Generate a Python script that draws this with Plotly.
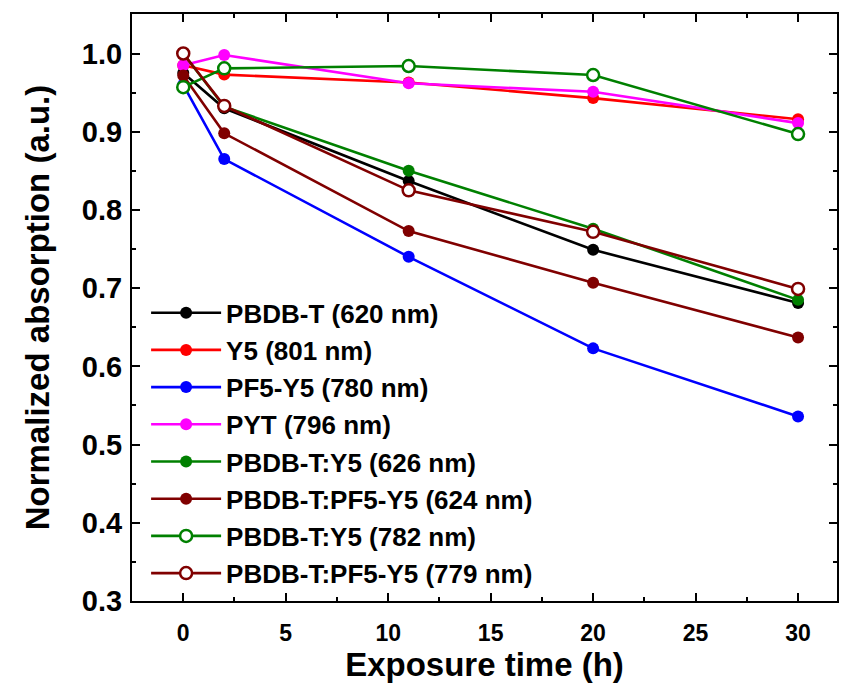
import plotly.graph_objects as go

time_h = [0, 2, 11, 20, 30]

names = [
    "PBDB-T (620 nm)",
    "Y5 (801 nm)",
    "PF5-Y5 (780 nm)",
    "PYT (796 nm)",
    "PBDB-T:Y5 (626 nm)",
    "PBDB-T:PF5-Y5 (624 nm)",
    "PBDB-T:Y5 (782 nm)",
    "PBDB-T:PF5-Y5 (779 nm)",
]

pbdbt_620 = [0.975, 0.930, 0.837, 0.749, 0.681]
y5_801 = [0.985, 0.973, 0.963, 0.943, 0.916]
pf5y5_780 = [0.960, 0.865, 0.740, 0.623, 0.536]
pyt_796 = [0.985, 0.998, 0.962, 0.951, 0.911]
blend_y5_626 = [1.000, 0.932, 0.850, 0.776, 0.685]
blend_pf5_624 = [0.972, 0.898, 0.773, 0.707, 0.637]
blend_y5_782 = [0.957, 0.981, 0.984, 0.9725, 0.897]
blend_pf5_779 = [1.000, 0.933, 0.825, 0.772, 0.699]

series = [pbdbt_620, y5_801, pf5y5_780, pyt_796,
          blend_y5_626, blend_pf5_624, blend_y5_782, blend_pf5_779]
colors = ["#000000", "#FF0000", "#0000FF", "#FF00FF",
          "#008000", "#800000", "#008000", "#800000"]
open_marker = [False, False, False, False, False, False, True, True]

fig = go.Figure()
for i, (nm, ys, c, op) in enumerate(zip(names, series, colors, open_marker)):
    fig.add_trace(go.Scatter(
        x=time_h, y=ys, name=nm, mode="lines+markers",
        legendgroup=f"g{i}",
        line=dict(color=c, width=2.6),
        marker=dict(symbol="circle", size=12,
                    color="white" if op else c,
                    line=dict(color=c, width=2.5 if op else 0)),
    ))

font_main = "Liberation Sans, Arial, sans-serif"
font_narrow = "Liberation Sans Narrow, Arial Narrow, Liberation Sans, Arial"

fig.update_layout(
    width=845, height=690,
    margin=dict(l=132, r=6, t=14, b=89),
    paper_bgcolor="white", plot_bgcolor="white",
    font=dict(family=font_main, color="black"),
    showlegend=True,
    legend=dict(
        x=0.02, y=0.531, xanchor="left", yanchor="top",
        bgcolor="rgba(0,0,0,0)", borderwidth=0,
        font=dict(size=26, family=font_main, color="black", weight="bold"),
        itemwidth=70, traceorder="grouped", tracegroupgap=0.4,
    ),
    xaxis=dict(
        range=[-2.5, 31.9], tickmode="array",
        tickvals=[0, 5, 10, 15, 20, 25, 30],
        ticks="inside", ticklen=8, tickwidth=2, tickcolor="black",
        minor=dict(ticks="inside", ticklen=4, tickwidth=2, dtick=2.5, tick0=0, tickcolor="black"),
        showline=True, linewidth=2, linecolor="black", mirror="allticks",
        showgrid=False, zeroline=False,
        tickfont=dict(size=23, family=font_narrow, weight="bold"),
        ticklabelstandoff=10,
        title=dict(text="Exposure time (h)", standoff=5,
                   font=dict(size=33, family=font_main, weight="bold")),
    ),
    yaxis=dict(
        range=[0.3, 1.0505], tickmode="array",
        tickvals=[0.3, 0.4, 0.5, 0.6, 0.7, 0.8, 0.9, 1.0],
        ticktext=["0.3", "0.4", "0.5", "0.6", "0.7", "0.8", "0.9", "1.0"],
        ticks="inside", ticklen=8, tickwidth=2, tickcolor="black",
        minor=dict(ticks="inside", ticklen=4, tickwidth=2, dtick=0.05, tick0=0.3, tickcolor="black"),
        showline=True, linewidth=2, linecolor="black", mirror="allticks",
        showgrid=False, zeroline=False,
        tickfont=dict(size=29, family=font_main, weight="bold"),
        ticklabelstandoff=2,
        title=dict(text="Normalized absorption (a.u.)", standoff=22,
                   font=dict(size=33, family=font_main, weight="bold")),
    ),
)

fig.write_html("out.html")
